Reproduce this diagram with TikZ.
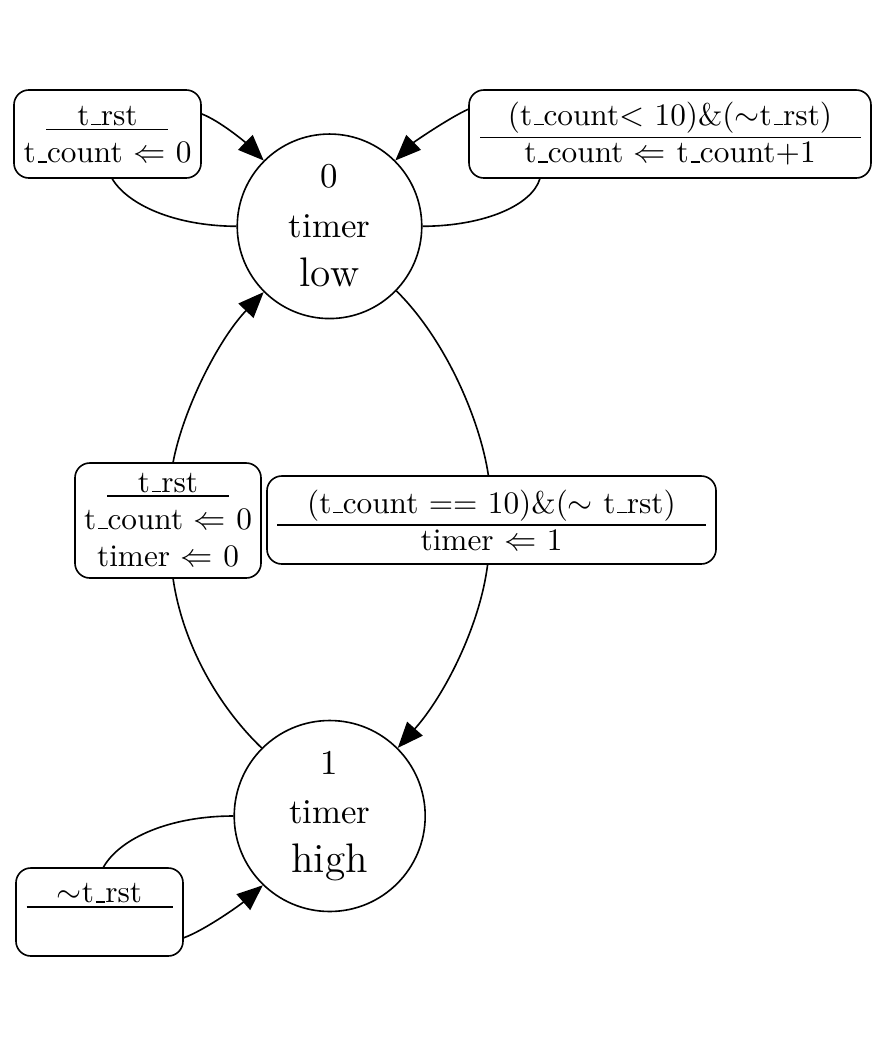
\documentclass[tikz,border=0pt]{standalone}
\usetikzlibrary{arrows.meta}
\newcommand\us{\leavevmode\kern.06em\vbox{\hrule width.3em}}
\begin{document}
\begin{tikzpicture}[x=0.31pt,y=0.31pt,
  every path/.style={line width=0.5pt},
  statenode/.style={circle,draw,inner sep=0pt},
  guardbox/.style={rectangle,draw,rounded corners=4.6pt,inner sep=0pt},
  txt/.style={inner sep=0pt,anchor=base,font=\fontsize{10.8pt}{13pt}\selectfont},
  boxtxt/.style={inner sep=0pt,anchor=base,font=\fontsize{9.7pt}{12pt}\selectfont},
  bigtxt/.style={inner sep=0pt,anchor=base,font=\fontsize{12.8pt}{15pt}\selectfont},
  edge/.style={-{Triangle[length=8pt,width=6.4pt]}}]
\fill[white] (0,0) rectangle (874,-1051);
\useasboundingbox (0,0) rectangle (874,-1051);
% states
\node[statenode,minimum size=57.2pt] (s0) at (329.5,-226.3) {};
\node[statenode,minimum size=59.2pt] (s1) at (329.7,-816) {};
\node[txt] (s0a) at (329.5,-187.3) {0};
\node[txt] (s0b) at (329.5,-237.3) {timer};
\node[bigtxt] (s0c) at (329.5,-286.7) {low};
\node[txt] (s1a) at (329.7,-774) {1};
\node[txt] (s1b) at (329.7,-823) {timer};
\node[bigtxt] (s1c) at (329.7,-872.5) {high};
% boxes
\node[guardbox,minimum width=57.97pt,minimum height=27.28pt] (bA) at (107.5,-134) {};
\node[guardbox,minimum width=124.6pt,minimum height=27.28pt] (bB) at (670,-134) {};
\node[guardbox,minimum width=57.66pt,minimum height=35.65pt] (bC) at (168,-520.5) {};
\node[guardbox,minimum width=139.2pt,minimum height=27.28pt] (bD) at (491.5,-520) {};
\node[guardbox,minimum width=51.77pt,minimum height=27.28pt] (bE) at (99.5,-912) {};
% box texts
\node[boxtxt] (tA1) at (107.5,-125) {t\us rst};
\draw (46,-129.5) -- (168,-129.5);
\node[boxtxt] (tA2) at (107.5,-162.7) {t\us count $\Leftarrow$ 0};
\node[boxtxt] (tB1) at (670,-125) {(t\us count$<$ 10)\&($\sim$t\us rst)};
\draw (480,-137.5) -- (861,-137.5);
\node[boxtxt] (tB2) at (670,-162.7) {t\us count $\Leftarrow$ t\us count+1};
\node[boxtxt] (tC1) at (168,-492) {t\us rst};
\draw (107,-496) -- (229,-496);
\node[boxtxt] (tC2) at (168,-529) {t\us count $\Leftarrow$ 0};
\node[boxtxt] (tC3) at (168,-566) {timer $\Leftarrow$ 0};
\node[boxtxt] (tD1) at (491.5,-513) {(t\us count == 10)\&($\sim$ t\us rst)};
\draw (277,-525) -- (706,-525);
\node[boxtxt] (tD2) at (491.5,-550) {timer $\Leftarrow$ 1};
\node[boxtxt] (tE1) at (99.5,-902.7) {$\sim$t\us rst};
\draw (26.7,-906.7) -- (172.7,-906.7);
% connectors
\draw (s0.west) .. controls (175,-226) and (128,-205) .. (bA.-84.5);
\draw[edge] (bA.12.7) .. controls (220,-121) and (245,-142) .. (s0.135);
\draw (s0.east) .. controls (485,-226) and (532,-205) .. (bB.199.7);
\draw[edge] (bB.173.2) .. controls (449,-118) and (414,-142) .. (s0.45);
\draw (s0.-44) .. controls (446,-340) and (480,-420) .. (bD.94.5);
\draw[edge] (bD.265.5) .. controls (480,-625) and (445,-695) .. (s1.45);
\draw (s1.135) .. controls (215,-703) and (182,-640) .. (bC.-85);
\draw[edge] (bC.85) .. controls (183,-410) and (218,-340) .. (s0.225);
\draw (s1.west) .. controls (170,-816) and (120,-838) .. (bE.85);
\draw[edge] (bE.-17) .. controls (205,-930) and (240,-905) .. (s1.226);
\end{tikzpicture}
\end{document}
